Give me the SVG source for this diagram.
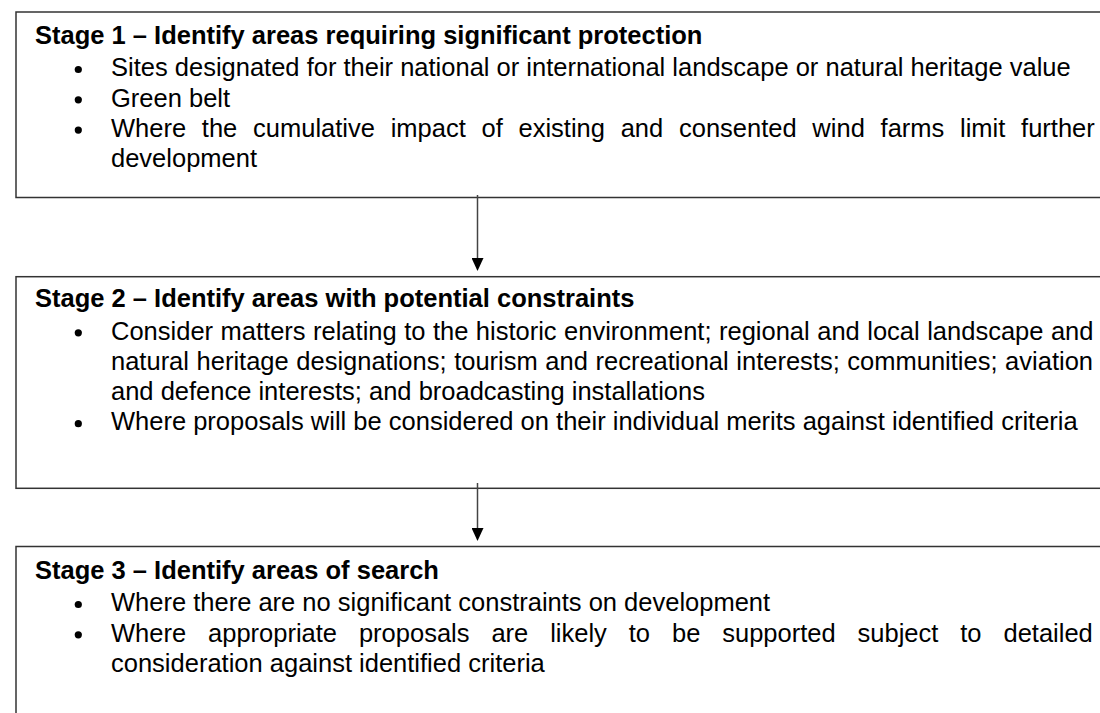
<svg xmlns="http://www.w3.org/2000/svg" width="1100" height="713" viewBox="0 0 1100 713">
<style>
.box{fill:#fff;stroke:#333;stroke-width:1.5}
.t{font-family:"Liberation Sans",Arial,sans-serif;font-size:25.5px;fill:#000}
.h{font-weight:bold}
.b{fill:#000}
.conn{stroke:#444;stroke-width:1.5;fill:none}
</style>
<defs>
<marker id="arr" markerUnits="userSpaceOnUse" markerWidth="13" markerHeight="12" refX="6" refY="6" orient="auto" viewBox="0 0 13 12">
<path d="M0,0 L13,6 L0,12 z" fill="#000"/>
</marker>
</defs>
<rect width="1100" height="713" fill="#fff"/>
<g id="stage1">
<rect class="box" x="16" y="12" width="1100" height="185.5"/>
<text class="t h" x="35" y="43.5">Stage 1 – Identify areas requiring significant protection</text>
<circle class="b" cx="78.3" cy="69.5" r="3.6"/>
<text class="t" x="111" y="76.2">Sites designated for their national or international landscape or natural heritage value</text>
<circle class="b" cx="78.3" cy="99.8" r="3.6"/>
<text class="t" x="111" y="106.5">Green belt</text>
<circle class="b" cx="78.3" cy="130.1" r="3.6"/>
<text class="t" x="111" y="136.8" word-spacing="8.65">Where the cumulative impact of existing and consented wind farms limit further</text>
<text class="t" x="111" y="167.1">development</text>
</g>
<g id="stage2">
<rect class="box" x="16" y="276.7" width="1100" height="211.6"/>
<text class="t h" x="35" y="306.7">Stage 2 – Identify areas with potential constraints</text>
<circle class="b" cx="78.3" cy="332.8" r="3.6"/>
<text class="t" x="111" y="339.5" word-spacing="0.4">Consider matters relating to the historic environment; regional and local landscape and</text>
<text class="t" x="111" y="369.8" word-spacing="0.5">natural heritage designations; tourism and recreational interests; communities; aviation</text>
<text class="t" x="111" y="400.1">and defence interests; and broadcasting installations</text>
<circle class="b" cx="78.3" cy="423.7" r="3.6"/>
<text class="t" x="111" y="430.4">Where proposals will be considered on their individual merits against identified criteria</text>
</g>
<g id="stage3">
<rect class="box" x="16" y="546.5" width="1100" height="200"/>
<text class="t h" x="35" y="578.5">Stage 3 – Identify areas of search</text>
<circle class="b" cx="78.3" cy="604.5" r="3.6"/>
<text class="t" x="111" y="611.2">Where there are no significant constraints on development</text>
<circle class="b" cx="78.3" cy="634.8" r="3.6"/>
<text class="t" x="111" y="641.5" word-spacing="14.83">Where appropriate proposals are likely to be supported subject to detailed</text>
<text class="t" x="111" y="671.8">consideration against identified criteria</text>
</g>
<g id="connectors">
<line class="conn" x1="477.5" y1="195" x2="477.5" y2="264" marker-end="url(#arr)"/>
<line class="conn" x1="477.5" y1="483" x2="477.5" y2="534" marker-end="url(#arr)"/>
</g>
</svg>
